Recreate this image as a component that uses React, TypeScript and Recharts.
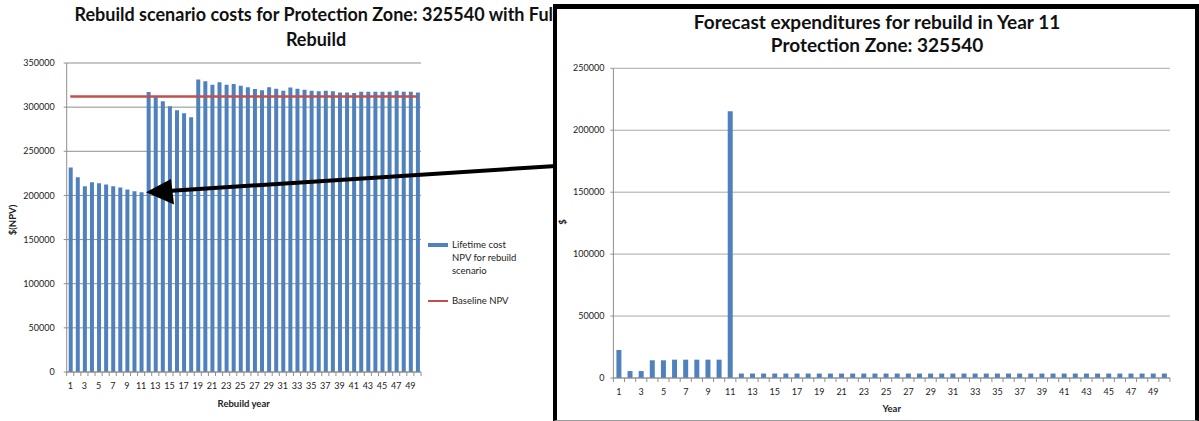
import { ComposedChart, BarChart, Bar, Line, XAxis, YAxis, CartesianGrid, Legend } from 'recharts';

// Rebuild year 1..50 (shared by both charts)
const years = [
  1, 2, 3, 4, 5, 6, 7, 8, 9, 10, 11, 12, 13, 14, 15, 16, 17, 18, 19, 20, 21, 22, 23, 24, 25,
  26, 27, 28, 29, 30, 31, 32, 33, 34, 35, 36, 37, 38, 39, 40, 41, 42, 43, 44, 45, 46, 47, 48, 49, 50,
];

// Lifetime cost NPV for each rebuild year
const lifetimeCost = [
  231500, 220600, 210400, 215000, 213800, 212300, 210400, 209000, 206700, 204800,
  203600, 317100, 311400, 306600, 300900, 296400, 293000, 288500, 331400, 329200,
  325400, 328100, 325400, 326200, 324300, 322400, 320500, 319000, 322400, 320900,
  318600, 322200, 320700, 319800, 318700, 317900, 318700, 317900, 316700, 316700,
  316000, 317500, 317500, 317500, 317500, 317500, 318700, 317500, 317500, 316700,
];

const BASELINE_NPV = 312000;

// Yearly forecast expenditures when the rebuild happens in year 11
const expenditures = [
  22600, 5600, 5600, 14300, 14300, 14800, 14800, 14800, 14800, 14800,
  215300, 3600, 3600, 3600, 3600, 3600, 3600, 3600, 3600, 3600,
  3600, 3600, 3600, 3600, 3600, 3600, 3600, 3600, 3600, 3600,
  3600, 3600, 3600, 3600, 3600, 3600, 3600, 3600, 3600, 3600,
  3600, 3600, 3600, 3600, 3600, 3600, 3600, 3600, 3600, 3600,
];

const costTicks = [0, 50000, 100000, 150000, 200000, 250000, 300000, 350000];
const spendTicks = [0, 50000, 100000, 150000, 200000, 250000];

const scenarioData = years.map((year, i) => ({
  year,
  cost: lifetimeCost[i],
  baseline: BASELINE_NPV,
}));

const forecastData = years.map((year, i) => ({
  year,
  spend: expenditures[i],
}));

const FONT = "Lato, 'Open Sans', sans-serif";
const BLUE = '#4F81BD';
const RED = '#C0504D';
const GRID = '#8E8E8E';
const TEXT = '#222';

// Excel-style category ticks: marks on band edges, label on every other year
function YearTick(props: any) {
  const { x, y, payload, index, visibleTicksCount, half, labelDy } = props;
  const h = payload && payload.offset ? payload.offset : half;
  return (
    <g>
      <line x1={x - h} x2={x - h} y1={y} y2={y + 4} stroke={GRID} />
      {index === visibleTicksCount - 1 && (
        <line x1={x + h} x2={x + h} y1={y} y2={y + 4} stroke={GRID} />
      )}
      {index % 2 === 0 && (
        <text x={x} y={y + labelDy} textAnchor='middle' fontSize={9} fontFamily={FONT} fill={TEXT}>
          {payload.value}
        </text>
      )}
    </g>
  );
}

function ScenarioLegend() {
  return (
    <div style={{ fontFamily: FONT, fontSize: 9.5, color: TEXT, lineHeight: '13px', textAlign: 'left' }}>
      <div style={{ display: 'flex' }}>
        <div style={{ width: 20, height: 4, background: BLUE, marginTop: 5, marginRight: 4 }} />
        <div>
          Lifetime cost
          <br />
          NPV for rebuild
          <br />
          scenario
        </div>
      </div>
      <div style={{ display: 'flex', marginTop: 17 }}>
        <div style={{ width: 20, height: 2.5, background: RED, marginTop: 5.5, marginRight: 4 }} />
        <div>Baseline NPV</div>
      </div>
    </div>
  );
}

export default function App() {
  return (
    <div style={{ position: 'absolute', left: 0, top: 0, width: 1199, height: 421, background: '#fff', overflow: 'hidden' }}>
      {/* left: lifetime cost per rebuild year */}
      <div style={{ position: 'absolute', left: 0, top: 0 }}>
        <ComposedChart
          width={553}
          height={421}
          data={scenarioData}
          margin={{ top: 63, right: 132, left: 0, bottom: 19 }}>
          <CartesianGrid vertical={false} stroke={GRID} />
          <XAxis
            dataKey='year'
            height={30}
            interval={0}
            tickSize={0}
            tickMargin={0}
            tickLine={false}
            axisLine={{ stroke: GRID }}
            tick={<YearTick half={3.54} labelDy={17} />}
          />
          <YAxis
            width={66.7}
            domain={[0, 350000]}
            ticks={costTicks}
            interval={0}
            tickSize={3}
            tickMargin={9}
            axisLine={{ stroke: GRID }}
            tickLine={{ stroke: GRID }}
            tick={{ fontSize: 9, fontFamily: FONT, fill: TEXT }}
          />
          <Legend
            layout='vertical'
            align='center'
            verticalAlign='middle'
            content={<ScenarioLegend />}
            wrapperStyle={{ left: 428, top: 238, width: 125 }}
          />
          <Bar dataKey='cost' name='Lifetime cost NPV for rebuild scenario' fill={BLUE} barSize={4} isAnimationActive={false} />
          <Line
            type='linear'
            dataKey='baseline'
            name='Baseline NPV'
            stroke={RED}
            strokeWidth={2.5}
            dot={false}
            activeDot={false}
            isAnimationActive={false}
          />
        </ComposedChart>
      </div>
      <div style={{ position: 'absolute', left: 16, top: 2, width: 600, textAlign: 'center', fontFamily: FONT, fontWeight: 700, fontSize: 18, lineHeight: '25px', color: '#111', whiteSpace: 'nowrap' }}>
        Rebuild scenario costs for Protection Zone: 325540 with Full
        <br />
        Rebuild
      </div>
      <div style={{ position: 'absolute', left: 12, top: 220, transform: 'translate(-50%, -50%) rotate(-90deg)', fontFamily: FONT, fontWeight: 700, fontSize: 9.5, color: TEXT, whiteSpace: 'nowrap' }}>
        $(NPV)
      </div>
      <div style={{ position: 'absolute', left: 243.7, top: 403, transform: 'translate(-50%, -50%)', fontFamily: FONT, fontWeight: 700, fontSize: 9.5, color: TEXT, whiteSpace: 'nowrap' }}>
        Rebuild year
      </div>

      {/* right: boxed chart of yearly expenditures */}
      <div style={{ position: 'absolute', left: 553, top: 4, width: 646, height: 417, boxSizing: 'border-box', borderTop: '5px solid #000', borderLeft: '4px solid #000', borderRight: '4px solid #000', borderBottom: '1.5px solid #9a9a9a', background: '#fff' }} />
      <div style={{ position: 'absolute', left: 557, top: 0 }}>
        <BarChart
          width={638}
          height={421}
          data={forecastData}
          margin={{ top: 68.3, right: 25, left: 0, bottom: 13 }}>
          <CartesianGrid vertical={false} stroke='#A8A8A8' />
          <XAxis
            dataKey='year'
            height={30}
            interval={0}
            tickSize={0}
            tickMargin={0}
            tickLine={false}
            axisLine={{ stroke: GRID }}
            tick={<YearTick half={5.57} labelDy={17} />}
          />
          <YAxis
            width={56.4}
            domain={[0, 250000]}
            ticks={spendTicks}
            interval={0}
            tickSize={3}
            tickMargin={6}
            axisLine={{ stroke: GRID }}
            tickLine={{ stroke: GRID }}
            tick={{ fontSize: 9, fontFamily: FONT, fill: TEXT }}
          />
          <Bar dataKey='spend' name='Expenditure' fill={BLUE} barSize={5} isAnimationActive={false} />
        </BarChart>
      </div>
      <div style={{ position: 'absolute', left: 577, top: 10, width: 600, textAlign: 'center', fontFamily: FONT, fontWeight: 700, fontSize: 19, lineHeight: '23px', color: '#111', whiteSpace: 'nowrap' }}>
        Forecast expenditures for rebuild in Year 11
        <br />
        Protection Zone: 325540
      </div>
      <div style={{ position: 'absolute', left: 562, top: 222, transform: 'translate(-50%, -50%) rotate(-90deg)', fontFamily: FONT, fontWeight: 700, fontSize: 9.5, color: TEXT }}>
        $
      </div>
      <div style={{ position: 'absolute', left: 891.7, top: 408, transform: 'translate(-50%, -50%)', fontFamily: FONT, fontWeight: 700, fontSize: 9.5, color: TEXT }}>
        Year
      </div>

      {/* arrow linking the year-11 rebuild to its bar on the left */}
      <svg width={1199} height={421} style={{ position: 'absolute', left: 0, top: 0, pointerEvents: 'none' }}>
        <line x1={556} y1={166} x2={168} y2={191} stroke='#000' strokeWidth={4} />
        <polygon points='146,192.3 171,179 174,204.5' fill='#000' />
      </svg>
    </div>
  );
}
